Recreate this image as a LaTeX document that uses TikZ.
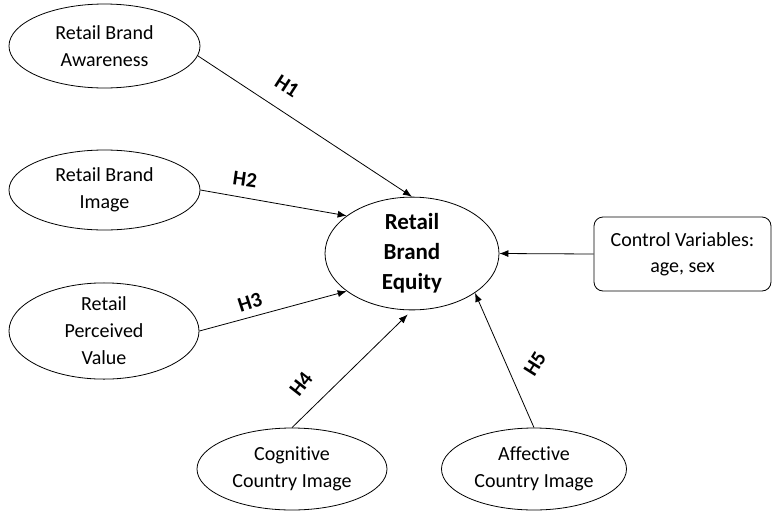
\documentclass[tikz,border=0pt]{standalone}
\usepackage{fontspec}
\setmainfont{Carlito}[Ligatures=CommonOff]
\usetikzlibrary{shapes.geometric,arrows.meta}

\begin{document}
\begin{tikzpicture}[x=1pt, y=-1pt, line width=0.8pt, >={Latex[length=9pt,width=7pt]},
  every node/.style={font=\fontsize{20}{27}\selectfont, align=center},
  construct/.style={draw, ellipse, inner sep=0pt},
  hyp/.style={font=\fontsize{21}{24}\selectfont\bfseries, inner sep=1pt}]

\useasboundingbox (0,0) rectangle (772,512);

% antecedents (left column)
\node[construct, minimum width=191pt, minimum height=84pt] (aware) at (104.5,46) {Retail Brand\\Awareness};
\node[construct, minimum width=191pt, minimum height=80pt] (image) at (104.5,190) {Retail Brand\\Image};
\node[construct, minimum width=190pt, minimum height=84pt] (value) at (104,331) {Retail\\Perceived\\Value};

% country image (bottom row)
\node[construct, minimum width=190pt, minimum height=82pt] (cogn) at (292,469) {Cognitive\\Country Image};
\node[construct, minimum width=185pt, minimum height=82pt] (affect) at (534,469) {Affective\\Country Image};

% outcome
\node[construct, minimum width=174pt, minimum height=105pt,
      font=\fontsize{23}{30}\selectfont\bfseries] (equity) at (412,253.5) {Retail\\Brand\\Equity};

% controls
\node[draw, rounded corners=9pt, minimum width=177pt, minimum height=74pt, inner sep=0pt,
      font=\fontsize{20}{26}\selectfont] (ctrl) at (682.5,254) {Control Variables:\\age, sex};

% paths
\draw[->] (aware.-6) -- (equity.north);
\draw[->] (image.east) -- (equity.150);
\draw[->] (value.east) -- (equity.210);
\draw[->, shorten >=6pt] (cogn.north) -- (equity.south);
\draw[->] (affect.north) -- (equity.-32);
\draw[->] (ctrl.west) -- (equity.east);

% hypothesis labels
\node[hyp, rotate=-33] (h1) at (287,86) {H1};
\node[hyp, rotate=-8] (h2) at (245,179) {H2};
\node[hyp, rotate=18] (h3) at (250,302) {H3};
\node[hyp, rotate=52] (h4) at (301,384) {H4};
\node[hyp, rotate=58] (h5) at (535,364) {H5};

\end{tikzpicture}
\end{document}
